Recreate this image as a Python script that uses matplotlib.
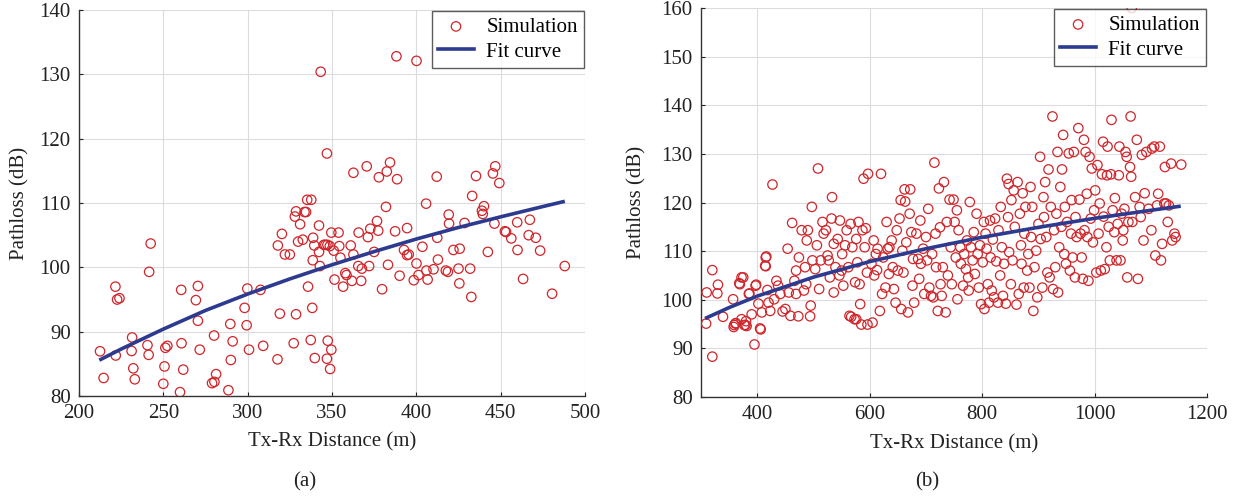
# Pathloss vs Tx-Rx distance, two panels (a) and (b)
import matplotlib
matplotlib.use("Agg")
import matplotlib.pyplot as plt

plt.rcParams['font.family'] = ['Liberation Serif', 'DejaVu Serif']

# ---- panel (a) data ----
dist_a = [212.5, 214.6, 221.6, 222.6, 224.0, 221.8, 231.5, 231.2, 232.2, 233.1,
          242.5, 241.6, 240.6, 241.3, 250.7, 250.0, 251.2, 252.4, 260.6, 260.8,
          261.8, 259.9, 270.5, 269.3, 270.5, 271.6, 280.1, 281.3, 278.9, 280.3,
          289.7, 291.1, 290.0, 288.6, 299.8, 298.2, 299.4, 300.8, 307.6, 309.2,
          317.7, 319.1, 317.9, 320.3, 322.1, 325.0, 328.0, 328.7, 331.1, 329.9,
          332.7, 333.7, 334.6, 335.3, 337.7, 328.7, 327.3, 335.8, 338.6, 338.8,
          339.5, 342.3, 342.3, 342.8, 338.3, 337.4, 339.8, 343.3, 347.0, 345.2,
          346.1, 347.3, 348.7, 349.6, 353.9, 354.3, 351.0, 351.5, 355.0, 357.9,
          358.6, 356.6, 361.8, 361.1, 362.7, 362.7, 347.5, 349.6, 347.0, 348.9,
          365.8, 365.6, 367.7, 367.3, 370.6, 371.3, 372.7, 372.0, 375.0, 376.7,
          377.4, 377.8, 379.7, 382.0, 382.5, 384.4, 383.2, 387.4, 388.6, 388.2,
          390.1, 392.7, 394.5, 395.5, 394.5, 400.1, 400.1, 398.5, 401.3, 403.6,
          405.8, 406.7, 406.0, 410.2, 412.1, 412.4, 412.8, 417.5, 418.7, 419.2,
          419.4, 422.0, 425.7, 425.5, 425.0, 428.6, 431.9, 432.6, 433.1, 435.4,
          438.9, 440.1, 439.4, 442.4, 445.4, 446.8, 446.3, 449.2, 452.5, 453.2,
          456.3, 459.8, 460.0, 463.3, 466.6, 467.3, 470.8, 473.4, 480.5, 488.0]
loss_a = [86.95, 82.8, 97.0, 95.0, 95.2, 86.3, 89.1, 87.0, 84.3, 82.6,
          103.7, 99.3, 87.9, 86.4, 84.6, 81.9, 87.5, 87.8, 96.5, 88.2,
          84.1, 80.6, 97.1, 94.9, 91.7, 87.2, 89.4, 83.4, 82.0, 82.2,
          91.2, 88.5, 85.6, 80.9, 96.7, 93.7, 91.0, 87.2, 96.5, 87.8,
          85.7, 92.8, 103.4, 105.2, 102.0, 102.0, 107.9, 108.7, 106.7, 104.0,
          104.3, 108.6, 108.6, 110.5, 110.5, 92.7, 88.2, 97.0, 101.1, 104.6,
          103.4, 106.5, 102.4, 100.2, 93.7, 88.7, 85.9, 130.4, 117.7, 103.5,
          103.5, 103.5, 103.3, 105.4, 105.4, 103.3, 102.6, 98.1, 101.5, 99.1,
          98.8, 97.0, 97.9, 103.4, 102.0, 114.7, 88.6, 87.2, 85.8, 84.2,
          105.4, 100.2, 99.8, 97.9, 115.7, 104.7, 106.0, 100.2, 102.4, 107.2,
          105.7, 114.0, 96.6, 109.4, 114.9, 116.3, 100.4, 105.6, 113.7, 132.8,
          98.7, 102.7, 101.9, 102.0, 106.1, 132.1, 100.6, 98.0, 98.8, 103.2,
          109.9, 98.1, 99.5, 99.7, 114.1, 104.6, 101.2, 99.5, 99.3, 108.2,
          106.8, 102.7, 102.9, 97.5, 99.8, 106.9, 99.8, 95.4, 111.1, 114.2,
          108.8, 109.5, 108.3, 102.4, 114.6, 115.7, 106.8, 113.1, 105.6, 105.5,
          104.5, 107.0, 102.7, 98.2, 105.0, 107.4, 104.6, 102.6, 95.9, 100.2]
fit_a_x = [213, 225, 250, 275, 300, 325, 350, 375, 400, 425, 450, 475, 487]
fit_a_y = [85.7, 87.3, 90.4, 93.3, 95.85, 98.2, 100.4, 102.45, 104.4, 106.2, 107.85, 109.45, 110.2]

# ---- panel (b) data ----
dist_b = [309, 310, 320, 320, 330, 329, 339, 357, 361, 358, 369, 375, 372, 377, 381,
          385, 390, 395, 397, 402, 406, 408, 359, 362, 379, 380, 368, 372, 386, 398,
          405, 416, 414,
          415, 415, 418, 420, 423, 427, 430, 434, 437, 441, 445, 450, 454, 456, 459,
          462, 466, 469, 469, 473, 474, 479, 483, 487, 488, 490, 485, 494, 495, 497, 498,
          503, 506, 508, 510, 513, 516, 518, 522, 525, 527, 529, 532, 533, 536, 536,
          539, 543, 546, 547, 550, 551, 553, 556, 559, 562, 564, 566, 569, 573, 574,
          576, 578, 580, 582, 583, 585, 587, 589, 591, 593, 595, 596, 597, 567, 576,
          603, 605, 607, 608, 611, 613, 614, 618, 620, 622, 624, 628, 630, 632, 634,
          635, 639, 641, 643, 646, 648, 650, 653, 655, 656, 658, 660, 662, 663, 665,
          668, 671, 672, 674, 676, 677, 679, 683, 686, 688, 690, 691, 695, 697,
          700, 702, 704, 706, 709, 711, 713, 715, 717, 718, 721, 723, 725, 726, 728,
          730, 732, 735, 737, 739, 742, 744, 746, 749, 751, 753, 755, 756, 758, 761,
          762, 766, 768, 771, 773, 775, 776, 778, 780, 783, 785, 787, 790, 792, 794,
          796, 798, 801,
          803, 804, 806, 808, 810, 812, 814, 815, 817, 819, 821, 823, 825, 828, 829,
          832, 833, 835, 837, 839, 842, 844, 846, 847, 848, 851, 852, 854, 856, 858,
          861, 863, 865, 867, 869, 870, 872, 874, 875, 877, 880, 882, 884, 886, 887,
          889, 891, 893, 896, 898, 900,
          903, 904, 907, 909, 910, 912, 914, 916, 918, 920, 922, 925, 926, 928, 930,
          932, 934, 935, 937, 939, 941, 942, 944, 946, 947, 949, 951, 954, 956, 958,
          959, 961, 963, 965, 966, 968, 971, 973, 975, 977, 979, 981, 982, 984, 986,
          987, 989, 991, 993, 995, 997, 999,
          1001, 1003, 1005, 1007, 1009, 1011, 1013, 1015, 1016, 1018, 1021, 1022, 1023,
          1025, 1027, 1029, 1030, 1032, 1035, 1036, 1039, 1041, 1043, 1044, 1046, 1048,
          1050, 1051, 1053, 1055, 1057, 1058, 1060, 1063, 1064, 1065, 1066, 1067, 1072,
          1075, 1077, 1080, 1082, 1084, 1087, 1089, 1092, 1096,
          1101, 1102, 1106, 1108, 1111, 1113, 1116, 1118, 1120, 1124, 1125, 1127, 1130,
          1132, 1136, 1138, 1142, 1144, 1154]
loss_b = [95.1, 101.5, 88.3, 106.1, 103.1, 101.3, 96.5, 100.1, 95.1, 94.4, 103.2, 104.6, 96.0, 94.8, 94.6,
          101.2, 97.0, 90.8, 102.9, 99.2, 93.9, 97.4, 94.8, 95.2, 94.8, 95.6, 103.4, 104.6, 101.3, 103.1,
          94.1, 108.9, 107.0,
          108.7, 106.9, 102.0, 99.4, 97.7, 123.7, 100.1, 103.9, 102.9, 101.2, 97.6, 98.1, 110.5, 101.5, 96.7,
          115.8, 103.9, 106.0, 101.2, 96.6, 108.7, 114.3, 101.9, 103.2, 112.2, 114.3, 106.7, 96.6, 98.8, 119.1, 108.1,
          106.3, 111.2, 127.0, 102.2, 108.1, 116.0, 113.6, 114.3, 109.1, 108.1, 104.6, 116.7, 121.1, 111.5, 101.5,
          106.7, 112.5, 105.0, 116.3, 106.0, 109.4, 102.9, 111.2, 114.3, 106.7, 96.7, 115.6, 110.8, 96.0, 103.6,
          112.5, 107.7, 116.0, 103.2, 99.1, 94.9, 114.3, 124.9, 110.8, 114.7, 105.6, 94.9, 125.9, 96.5, 96.0,
          107.4, 95.3, 112.2, 105.0, 109.4, 106.1, 110.5, 97.7, 125.9, 101.2, 108.7, 102.5, 116.0, 110.5, 105.3,
          110.8, 112.2, 106.7, 102.2, 99.4, 114.3, 106.0, 116.7, 120.5, 98.1, 110.1, 105.6, 122.7, 120.2, 111.8,
          97.4, 117.7, 122.7, 113.9, 102.9, 108.4, 99.4, 113.6, 108.4, 104.3, 116.3, 107.4, 110.5, 101.2,
          112.9, 108.1, 118.7, 102.5, 100.8, 109.4, 100.5, 128.2, 113.6, 106.7, 97.7, 122.9, 114.9, 103.2, 100.8,
          106.7, 124.2, 97.4, 116.0, 105.0, 120.6, 110.8, 103.2, 120.6, 116.0, 108.7, 118.4, 100.1, 114.3, 110.8,
          107.4, 102.9, 109.4, 106.3, 112.2, 104.6, 101.9, 120.1, 110.8, 108.1, 113.9, 105.3, 117.7, 109.4, 102.5,
          111.2, 99.1, 107.7,
          116.0, 98.1, 113.6, 110.5, 103.2, 99.4, 116.3, 108.7, 101.9, 112.4, 100.5, 116.7, 107.9, 99.4, 114.3,
          105.0, 119.1, 110.8, 100.8, 107.4, 99.2, 124.9, 117.0, 123.8, 109.8, 103.2, 120.5, 108.1, 122.5, 115.0,
          99.0, 124.2, 101.2, 117.7, 111.2, 107.4, 121.9, 102.5, 113.6, 119.1, 106.0, 109.4, 102.5, 123.2, 112.9,
          119.1, 97.7, 106.7, 110.1, 100.5, 115.6,
          129.4, 112.5, 102.5, 121.1, 117.0, 124.2, 112.9, 105.6, 126.8, 104.6, 119.1, 137.7, 102.2, 114.3, 106.7,
          117.7, 130.4, 101.5, 110.8, 123.2, 115.0, 126.8, 133.9, 109.4, 119.1, 107.4, 116.0, 130.1, 106.0, 113.6,
          120.5, 108.7, 130.4, 104.6, 117.0, 112.9, 135.3, 120.6, 113.6, 108.7, 104.3, 132.9, 114.3, 130.4, 121.8,
          112.9, 103.9, 129.4, 116.7, 127.0, 111.8, 118.4,
          122.5, 105.6, 127.7, 113.6, 119.8, 106.0, 125.8, 132.5, 117.1, 106.3, 110.8, 125.6, 131.5,
          115.0, 108.1, 125.8, 137.0, 118.4, 113.9, 120.9, 108.1, 115.6, 125.6, 131.5, 108.1, 117.7,
          112.2, 114.3, 118.7, 130.4, 129.4, 104.6, 116.0, 127.3, 137.7, 125.3, 160.0, 116.0, 121.1,
          132.9, 104.3, 119.1, 117.0, 129.8, 112.2, 121.9, 130.4, 118.7,
          114.3, 131.1, 131.5, 109.1, 119.4, 121.8, 131.5, 108.1, 111.5, 119.8, 127.3, 119.8, 116.0,
          119.4, 128.0, 112.2, 113.6, 112.9, 127.8]
fit_b_x = [310, 350, 400, 500, 600, 700, 800, 900, 1000, 1100, 1150]
fit_b_y = [96.3, 98.4, 100.75, 104.65, 107.85, 110.5, 112.85, 114.9, 116.75, 118.4, 119.2]

red = '#d0252a'
navy = '#2c3a8f'
fs = 15

fig = plt.figure(figsize=(12.36, 4.98), dpi=100)
ax_a = fig.add_axes([0.0639, 0.2048, 0.4094, 0.7751])
ax_b = fig.add_axes([0.5672, 0.2028, 0.4094, 0.7811])

panels = [
    (ax_a, dist_a, loss_a, fit_a_x, fit_a_y, (200, 500), range(200, 501, 50), (80, 140), range(80, 141, 10), -0.098),
    (ax_b, dist_b, loss_b, fit_b_x, fit_b_y, (300, 1200), range(400, 1201, 200), (80, 160), range(80, 161, 10), -0.108),
]

for ax, xs, ys, fx, fy, xl, xt, yl, yt, ylab_x in panels:
    ax.scatter(xs, ys, s=46, facecolors='none', edgecolors=red, linewidths=0.9,
               label='Simulation', zorder=3)
    ax.plot(fx, fy, color=navy, lw=2.6, label='Fit curve', zorder=4)
    ax.set_xlim(*xl)
    ax.set_ylim(*yl)
    ax.set_xticks(list(xt))
    ax.set_yticks(list(yt))
    ax.grid(True, color='#dcdcdc', lw=0.8)
    ax.set_axisbelow(True)
    for side in ['top', 'right']:
        ax.spines[side].set_visible(False)
    for side in ['left', 'bottom']:
        ax.spines[side].set_color('#333333')
        ax.spines[side].set_linewidth(1.0)
    ax.tick_params(direction='in', length=3, labelsize=fs, colors='#222222', pad=6)
    ax.set_xlabel('Tx-Rx Distance (m)', fontsize=fs, color='#222222')
    ax.set_ylabel('Pathloss (dB)', fontsize=fs, color='#222222')
    ax.xaxis.set_label_coords(0.5, -0.095)
    ax.yaxis.set_label_coords(ylab_x, 0.5)
    leg = ax.legend(loc='upper right', fontsize=fs, frameon=True, fancybox=False,
                    borderaxespad=0.05, handlelength=1.7, borderpad=0.3,
                    labelspacing=0.25, handletextpad=0.6)
    leg.get_frame().set_edgecolor('#333333')
    leg.get_frame().set_linewidth(1.0)

fig.text(305 / 1236, 16 / 498, '(a)', fontsize=fs, ha='center', va='center', color='#222222')
fig.text(927 / 1236, 16 / 498, '(b)', fontsize=fs, ha='center', va='center', color='#222222')

fig.savefig('out.png', dpi=100)
